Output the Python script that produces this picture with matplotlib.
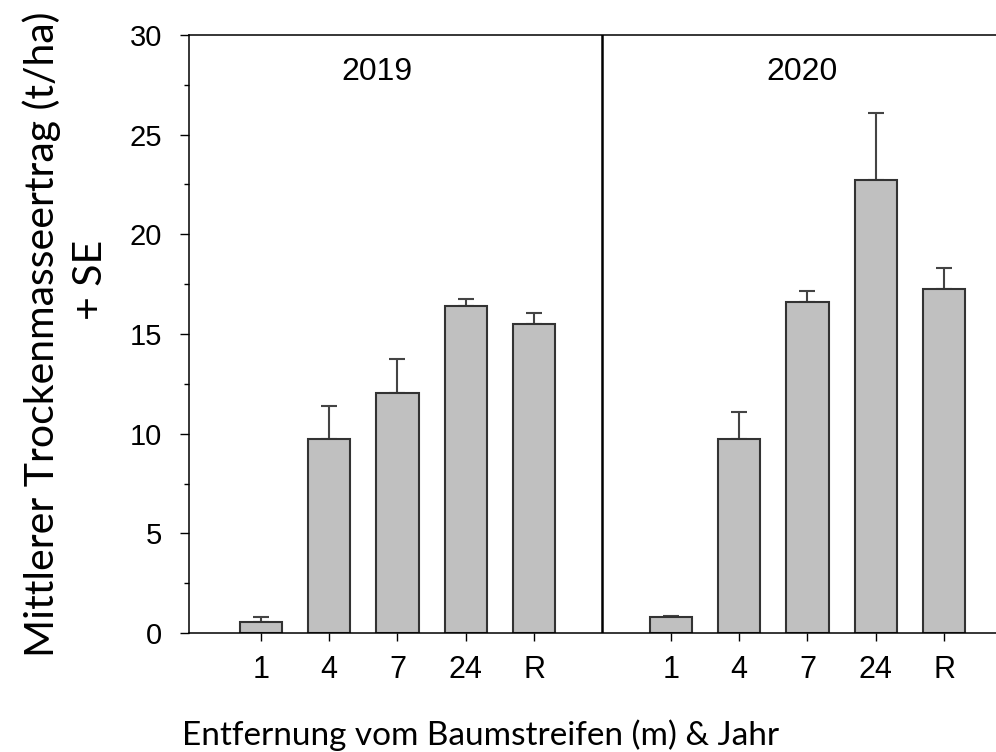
import matplotlib
matplotlib.use("Agg")
import matplotlib.pyplot as plt
from matplotlib.ticker import MultipleLocator

# Mean dry-matter yield (t/ha) and standard error per distance class and year
distances = ["1", "4", "7", "24", "R"]
years = ["2019", "2020"]
yield_2019 = [0.55, 9.73, 12.04, 16.41, 15.52]
se_2019 = [0.25, 1.66, 1.70, 0.33, 0.54]
yield_2020 = [0.79, 9.75, 16.59, 22.70, 17.28]
se_2020 = [0.06, 1.35, 0.55, 3.40, 1.03]

TICK_FONT = "Liberation Sans"
LABEL_FONT = "Lato"

fig = plt.figure(figsize=(9.96, 7.52), dpi=100)
ax = fig.add_axes([0.1898, 0.1582, 1.0 - 0.1898, 0.9535 - 0.1582])

x19 = list(range(len(distances)))
x20 = [i + len(distances) + 1 for i in x19]
bar_style = dict(width=0.62, color="#c0c0c0", edgecolor="#333333", linewidth=1.5, zorder=2)
err_style = dict(fmt="none", ecolor="#444444", elinewidth=1.5, capsize=6, capthick=1.5, zorder=1)

for xs, vals, errs in [(x19, yield_2019, se_2019), (x20, yield_2020, se_2020)]:
    ax.bar(xs, vals, **bar_style)
    ax.errorbar(xs, vals, yerr=[[0] * len(errs), errs], **err_style)

# separator between the two years
divider = len(distances)
ax.axvline(divider, color="black", linewidth=1.8, zorder=3)

ax.text(1.70, 28.15, years[0], ha="center", va="center", fontsize=23, family=TICK_FONT)
ax.text(7.92, 28.15, years[1], ha="center", va="center", fontsize=23, family=TICK_FONT)

ax.set_xlim(-1.05, 10.76)
ax.set_ylim(0, 30)
ax.set_xticks(x19 + x20)
ax.set_xticklabels(distances + distances)
ax.yaxis.set_major_locator(MultipleLocator(5))
ax.yaxis.set_minor_locator(MultipleLocator(2.5))

for side in ["left", "top", "bottom"]:
    ax.spines[side].set_linewidth(1.1)
ax.spines["right"].set_visible(False)

ax.tick_params(axis="y", which="major", length=6.5, width=1.0, pad=13, labelsize=21)
ax.tick_params(axis="y", which="minor", length=3.5, width=1.0)
ax.tick_params(axis="x", which="major", length=6, width=1.0, pad=10, labelsize=22)
for lab in ax.get_xticklabels() + ax.get_yticklabels():
    lab.set_family(TICK_FONT)

fig.text(0.482, 0.022, "Entfernung vom Baumstreifen (m) & Jahr", ha="center", va="center",
         fontsize=24, family=LABEL_FONT)
fig.text(0.042, 0.556, "Mittlerer Trockenmasseertrag (t/ha)", ha="center", va="center",
         rotation=90, fontsize=29.5, family=LABEL_FONT)
fig.text(0.091, 0.628, "+ SE", ha="center", va="center",
         rotation=90, fontsize=29.5, family=LABEL_FONT)

fig.savefig("out.png", dpi=100)
